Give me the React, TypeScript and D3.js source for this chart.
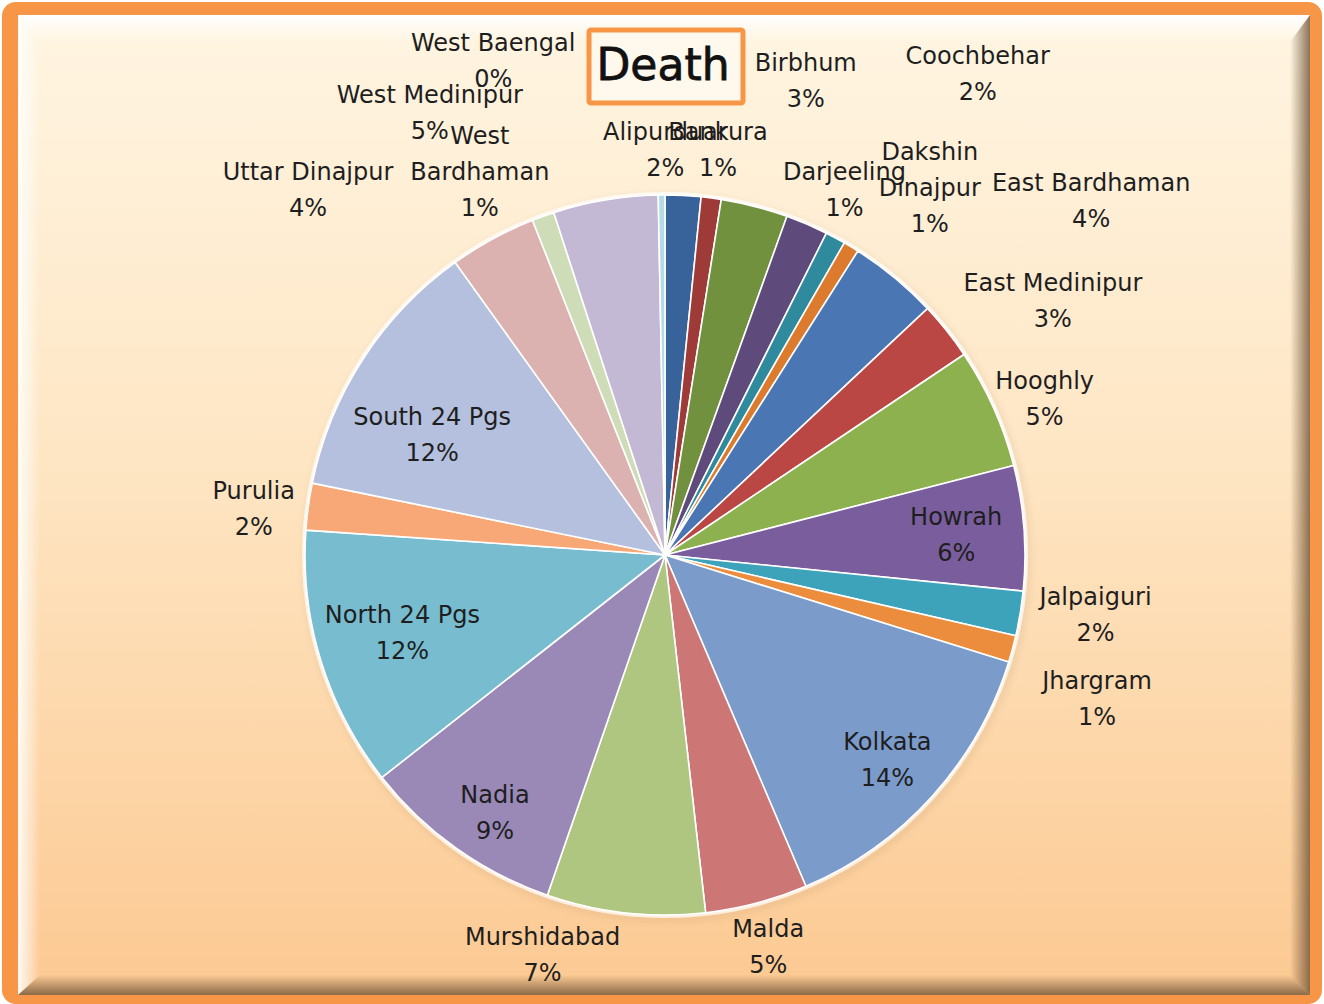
import React from 'react';
import * as d3 from 'd3';

// district-wise share of deaths (%)
const districts = [
  'Alipurduar', 'Bankura', 'Birbhum', 'Coochbehar', 'Dakshin Dinajpur', 'Darjeeling',
  'East Bardhaman', 'East Medinipur', 'Hooghly', 'Howrah', 'Jalpaiguri', 'Jhargram',
  'Kolkata', 'Malda', 'Murshidabad', 'Nadia', 'North 24 Pgs', 'Purulia',
  'South 24 Pgs', 'Uttar Dinajpur', 'West Bardhaman', 'West Medinipur', 'West Baengal',
];
const deathShare = [
  1.6, 0.9, 3.0, 1.9, 0.9, 0.7,
  4.0, 2.6, 5.4, 5.6, 2.0, 1.2,
  13.8, 4.6, 7.1, 9.1, 11.7, 2.1,
  11.9, 3.9, 1.0, 4.7, 0.3,
];
const sliceColors = [
  '#37629A', '#9E3B39', '#72913F', '#5F4A7C', '#2F8A9E', '#DC7A2E',
  '#4A77B4', '#BB4744', '#8EB150', '#7A5D9C', '#3DA3BA', '#EC8D3E',
  '#7B9BCB', '#CC7776', '#AEC680', '#9A88B6', '#78BCD0', '#F8A877',
  '#B4C0DD', '#DCB2B1', '#CEDDB7', '#C4B9D4', '#B4DCE8',
];

const insideLabels = ['Howrah', 'Kolkata', 'Nadia', 'North 24 Pgs', 'South 24 Pgs'];
const wrapped: Record<string, string[]> = {
  'West Bardhaman': ['West', 'Bardhaman'],
  'Dakshin Dinajpur': ['Dakshin', 'Dinajpur'],
};
// nudges (px) from the default label spot on each slice's mid angle
const labelNudge: Record<string, [number, number]> = {
  Alipurduar: [-20, 0], Bankura: [1, -2], Birbhum: [40, -81], Coochbehar: [153, -108],
  'Dakshin Dinajpur': [73, -9], Darjeeling: [-30, -17], 'East Bardhaman': [168, -41],
  'East Medinipur': [71, -1], Hooghly: [10, 10], Howrah: [11, 2], Jalpaiguri: [31, -5],
  Jhargram: [41, 39], Kolkata: [14, 18], Malda: [0, 1], Murshidabad: [-78, -2],
  Nadia: [-7, 30], 'North 24 Pgs': [6, -4], Purulia: [-10, 10], 'South 24 Pgs': [3, 34],
  'Uttar Dinajpur': [-163, -9], 'West Bardhaman': [-48, -1], 'West Medinipur': [-168, -42],
  'West Baengal': [-168, -88],
};

export default function App() {
  const W = 1324;
  const H = 1004;
  const cx = 665;
  const cy = 555;
  const R = 360;

  const rows = districts.map((name, i) => ({ name, value: deathShare[i], color: sliceColors[i] }));
  const total = d3.sum(deathShare);
  const pie = d3.pie<any>().sort(null).value((d) => d.value);
  const arcs = pie(rows);
  const arc = d3.arc<any>().innerRadius(0).outerRadius(R);
  const pct = d3.format('.0%');

  const font = '"DejaVu Sans", "Noto Sans", sans-serif';

  return (
    <svg width={W} height={H} style={{ position: 'absolute', left: 0, top: 0, display: 'block' }}>
      <defs>
        <linearGradient id="bg" x1="0" y1="0" x2="0" y2="1">
          <stop offset="0" stopColor="#FFF5E2" />
          <stop offset="0.45" stopColor="#FEE6C4" />
          <stop offset="1" stopColor="#FCC992" />
        </linearGradient>
        <linearGradient id="bevTop" x1="0" y1="0" x2="0" y2="1">
          <stop offset="0" stopColor="#fff" stopOpacity="1" />
          <stop offset="1" stopColor="#fff" stopOpacity="0" />
        </linearGradient>
        <linearGradient id="bevLeft" x1="0" y1="0" x2="1" y2="0">
          <stop offset="0" stopColor="#fff" stopOpacity="0.9" />
          <stop offset="1" stopColor="#fff" stopOpacity="0" />
        </linearGradient>
        <linearGradient id="bevRight" x1="1" y1="0" x2="0" y2="0">
          <stop offset="0" stopColor="#6E5235" stopOpacity="0.8" />
          <stop offset="1" stopColor="#6E5235" stopOpacity="0" />
        </linearGradient>
        <linearGradient id="bevBottom" x1="0" y1="1" x2="0" y2="0">
          <stop offset="0" stopColor="#6E5235" stopOpacity="0.8" />
          <stop offset="1" stopColor="#6E5235" stopOpacity="0" />
        </linearGradient>
        <filter id="pieShadow" x="-10%" y="-10%" width="120%" height="120%">
          <feDropShadow dx="2" dy="3" stdDeviation="3" floodColor="#7a5a3a" floodOpacity="0.3" />
        </filter>
      </defs>

      {/* frame */}
      <rect x={2} y={2} width={W - 4} height={H - 2} rx={14} fill="#F79646" />
      <rect x={18} y={15} width={1292} height={980} fill="url(#bg)" />
      <polygon points="18,15 1310,15 1290,42 40,42" fill="url(#bevTop)" />
      <polygon points="18,15 40,42 40,975 18,995" fill="url(#bevLeft)" />
      <polygon points="1310,15 1310,995 1290,975 1290,42" fill="url(#bevRight)" />
      <polygon points="18,995 40,975 1290,975 1310,995" fill="url(#bevBottom)" />

      <g transform={`translate(${cx},${cy})`}>
        <circle r={R + 1.5} fill="none" stroke="#fff" strokeOpacity={0.7} strokeWidth={3} filter="url(#pieShadow)" />
        {arcs.map((a) => (
          <path key={a.data.name} d={arc(a) || ''} fill={a.data.color} stroke="#fff" strokeWidth={1.6} strokeLinejoin="round" />
        ))}
        {arcs.map((a) => {
          const name = a.data.name;
          const mid = (a.startAngle + a.endAngle) / 2;
          const r = insideLabels.includes(name) ? 281 : 405;
          const [dx, dy] = labelNudge[name] || [0, 0];
          const x = Math.sin(mid) * r + dx;
          const y = -Math.cos(mid) * r + dy;
          const lines = [...(wrapped[name] || [name]), pct(a.data.value / total)];
          const step = 36;
          const y0 = y - ((lines.length - 1) * step) / 2;
          return (
            <text key={`l-${name}`} x={x} y={y0} textAnchor="middle" dominantBaseline="middle"
              fontFamily={font} fontSize={24} fill="#1E1E1E">
              {lines.map((ln, j) => (
                <tspan key={j} x={x} y={y0 + j * step}>{ln}</tspan>
              ))}
            </text>
          );
        })}
      </g>

      {/* title */}
      <rect x={589} y={30} width={154} height={73} fill="#FFF8EC" stroke="#F79646" strokeWidth={5} rx={2} />
      <text x={663} y={68} textAnchor="middle" dominantBaseline="middle" fontFamily={font}
        fontSize={44} fill="#111" stroke="#111" strokeWidth={0.8}>Death</text>
    </svg>
  );
}
